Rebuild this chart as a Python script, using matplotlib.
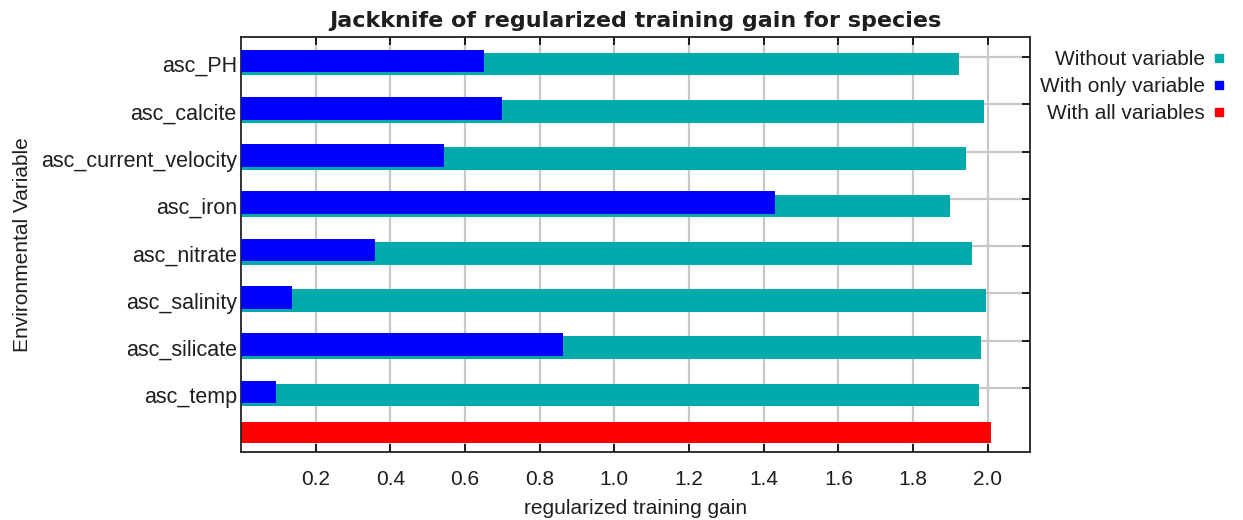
import numpy as np
import matplotlib
matplotlib.use("Agg")
import matplotlib.pyplot as plt
from matplotlib.lines import Line2D

plt.rcParams["font.family"] = ["Liberation Sans", "DejaVu Sans"]

# jackknife results per environmental variable
variables = ["asc_PH", "asc_calcite", "asc_current_velocity", "asc_iron",
             "asc_nitrate", "asc_salinity", "asc_silicate", "asc_temp"]
without_var = [1.923, 1.990, 1.942, 1.899, 1.957, 1.996, 1.981, 1.976]
only_var = [0.650, 0.698, 0.544, 1.430, 0.358, 0.136, 0.862, 0.093]
all_vars = 2.008

TEAL = "#00aaaa"
BLUE = "#0000ff"
RED = "#ff0000"
TEXT = "#1e1e1e"
FS = 15

fig = plt.figure(figsize=(12.43, 5.20), dpi=100)
ax = fig.add_axes([241 / 1243, 1 - 452 / 520, 789 / 1243, 415 / 520])

rows = np.arange(len(variables))
ax.barh(rows, without_var, height=0.48, color=TEAL, zorder=2)
ax.barh(rows - 0.065, only_var, height=0.48, color=BLUE, zorder=3)
ax.barh([7.79], [all_vars], height=0.46, color=RED, zorder=2)

ax.set_xlim(0, 2.113)
ax.set_ylim(8.203, -0.571)

xt = np.arange(0.2, 2.01, 0.2)
ax.set_xticks(xt, ["%.1f" % v for v in xt])
ax.tick_params(axis="x", direction="in", length=5.5, width=1.2, top=True,
               labelsize=FS, labelcolor=TEXT, pad=13)

ax.set_yticks(rows, variables)
ax.tick_params(axis="y", which="major", length=0, labelsize=15.5,
               labelcolor=TEXT, pad=3)
ax.set_yticks(rows - 0.15, minor=True)
ax.tick_params(axis="y", which="minor", direction="in", length=5.5, width=1.2,
               left=False, right=True)

ax.grid(axis="x", color="#c8c8c8", linewidth=1.6, zorder=0)
ax.grid(axis="y", which="minor", color="#c8c8c8", linewidth=1.6, zorder=0)
ax.set_axisbelow(True)
for s in ax.spines.values():
    s.set_linewidth(1.3)
    s.set_color("#222222")

ax.set_title("Jackknife of regularized training gain for species",
             fontsize=16, fontweight="bold", family="DejaVu Sans",
             color=TEXT, pad=7.5)
ax.set_xlabel("regularized training gain", fontsize=FS, color=TEXT, labelpad=7)
ax.set_ylabel("Environmental Variable", fontsize=FS, color=TEXT)
ax.yaxis.set_label_coords(-0.265, 0.5)

handles = [Line2D([], [], marker="s", linestyle="", markersize=5.8, color=c)
           for c in (TEAL, BLUE, RED)]
fig.legend(handles, ["Without variable", "With only variable", "With all variables"],
           loc="upper right", bbox_to_anchor=(1236 / 1243, 1 - 42 / 520),
           frameon=False, markerfirst=False, fontsize=FS, labelcolor=TEXT,
           handlelength=0.8, handletextpad=0.3, labelspacing=0.38,
           borderaxespad=0)

fig.savefig("out.png", dpi=100)
